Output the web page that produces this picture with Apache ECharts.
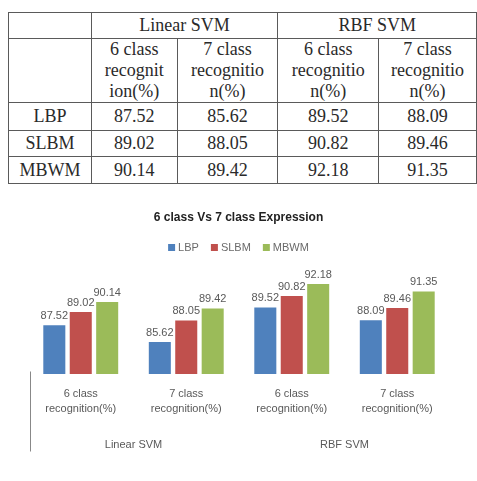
<!DOCTYPE html>
<html>
<head>
<meta charset="utf-8">
<script src="https://cdn.jsdelivr.net/npm/echarts@6/dist/echarts.min.js"></script>
<style>
    html, body { margin: 0; padding: 0; background: #fff; width: 477px; height: 481px; overflow: hidden; }
    .result-table {
        position: absolute; left: 8px; top: 12px;
        border-collapse: collapse; table-layout: fixed;
        font-family: "Liberation Serif", serif; font-size: 18px; color: #2a2a2a;
    }
    .result-table td { border: 1px solid #5a5a5a; text-align: center; padding: 0; line-height: 21px; }
    .bar-chart { position: absolute; left: 0; top: 190px; width: 477px; height: 291px; }
</style>
</head>
<body>
<table class="result-table" id="resultTable"></table>
<div class="bar-chart" id="barChart"></div>

<script>
    var groups = ['Linear SVM', 'RBF SVM']
    var tableHeaders = ['6 class\nrecognit\nion(%)', '7 class\nrecognitio\nn(%)', '6 class\nrecognitio\nn(%)', '7 class\nrecognitio\nn(%)']
    var categories = ['6 class\nrecognition(%)', '7 class\nrecognition(%)', '6 class\nrecognition(%)', '7 class\nrecognition(%)']
    var methods = ['LBP', 'SLBM', 'MBWM']
    var lbp = [87.52, 85.62, 89.52, 88.09]
    var slbm = [89.02, 88.05, 90.82, 89.46]
    var mbwm = [90.14, 89.42, 92.18, 91.35]
    var colors = ['#4f81bd', '#c0504d', '#9bbb59']

    // table above the chart
    function buildTable() {
        var widths = [83, 86, 101, 101, 98]
        var heights = [26, 64, 28, 26, 27]
        var values = [lbp, slbm, mbwm]
        var html = '<colgroup>' + widths.map(function (w) { return '<col style="width:' + w + 'px">' }).join('') + '</colgroup>'
        html += '<tr style="height:' + heights[0] + 'px"><td></td>' +
            groups.map(function (g) { return '<td colspan="2">' + g + '</td>' }).join('') + '</tr>'
        html += '<tr style="height:' + heights[1] + 'px"><td></td>' +
            tableHeaders.map(function (h) { return '<td>' + h.split('\n').join('<br>') + '</td>' }).join('') + '</tr>'
        methods.forEach(function (m, i) {
            html += '<tr style="height:' + heights[i + 2] + 'px"><td>' + m + '</td>' +
                values[i].map(function (v) { return '<td>' + v.toFixed(2) + '</td>' }).join('') + '</tr>'
        })
        document.getElementById('resultTable').innerHTML = html
    }

    var gridLeft = 28
    var gridBottom = 107

    function generateChartOption() {
        var seriesData = [lbp, slbm, mbwm]
        return {
            color: colors,
            title: {
                text: '6 class Vs 7 class Expression',
                left: 'center',
                top: 17,
                textStyle: { fontFamily: 'Liberation Sans', fontSize: 12, fontWeight: 'bold', color: '#222' }
            },
            legend: {
                top: 47,
                left: 'center',
                itemWidth: 7,
                itemHeight: 7,
                itemGap: 12,
                icon: 'rect',
                textStyle: { fontFamily: 'Liberation Sans', fontSize: 11, color: '#6a6a6a', padding: [0, 0, 0, -2] },
                data: methods
            },
            grid: { top: 78, bottom: gridBottom, left: gridLeft, right: 27 },
            // group divider at the left end of the category axis
            graphic: [{
                type: 'line',
                left: gridLeft,
                bottom: gridBottom - 80,
                shape: { x1: 0, y1: 0, x2: 0, y2: 80 },
                style: { stroke: '#888', lineWidth: 1 }
            }],
            xAxis: [{
                type: 'category',
                data: categories,
                axisLine: { show: false },
                axisTick: { show: false },
                axisLabel: {
                    margin: 12,
                    interval: 0,
                    lineHeight: 15,
                    fontFamily: 'Liberation Sans',
                    fontSize: 11,
                    color: '#595959'
                }
            }, {
                type: 'category',
                data: groups,
                position: 'bottom',
                offset: 65,
                axisLine: { show: false },
                axisTick: { show: false },
                axisLabel: { margin: 0, fontFamily: 'Liberation Sans', fontSize: 11, color: '#595959' }
            }],
            yAxis: {
                type: 'value',
                min: 82,
                max: 94,
                show: false
            },
            series: methods.map(function (name, i) {
                return {
                    name: name,
                    type: 'bar',
                    data: seriesData[i],
                    barGap: '20%',
                    barCategoryGap: '29%',
                    label: {
                        show: true,
                        position: 'top',
                        distance: 4,
                        fontFamily: 'Liberation Sans',
                        fontSize: 11,
                        color: '#595959',
                        formatter: function (p) { return p.value.toFixed(2) }
                    }
                }
            })
        }
    }

    buildTable()
    var barChart = echarts.init(document.getElementById('barChart'), null, { renderer: 'canvas' })
    barChart.setOption(generateChartOption())
</script>
</body>
</html>
